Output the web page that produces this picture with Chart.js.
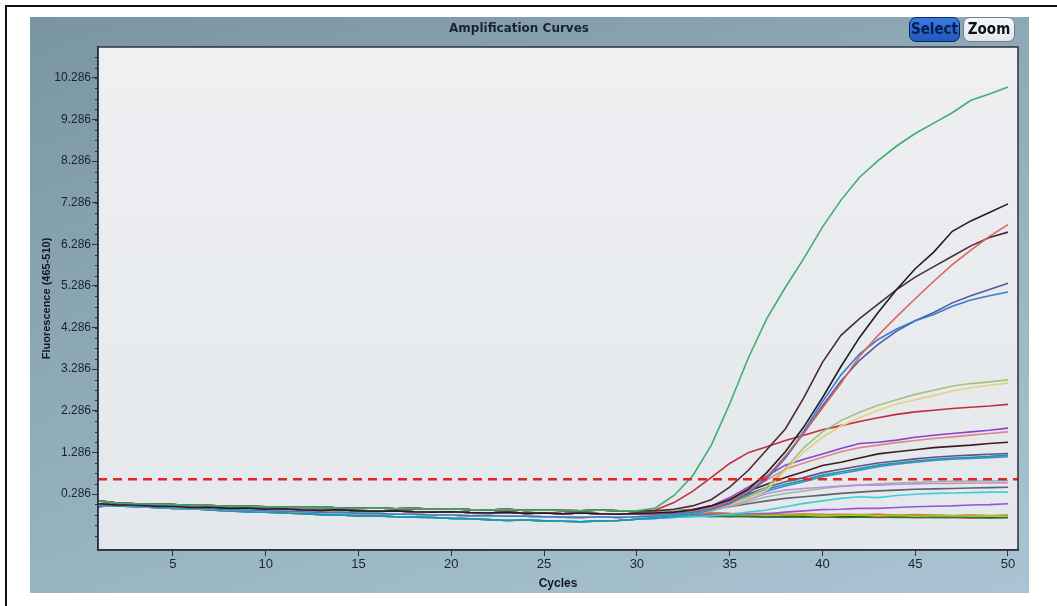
<!DOCTYPE html>
<html>
<head>
<meta charset="utf-8">
<script src="https://cdn.jsdelivr.net/npm/chart.js@4.4.1/dist/chart.umd.min.js"></script>
<style>
  html,body{margin:0;padding:0;background:#ffffff;width:1057px;height:606px;overflow:hidden;}
  #frame{position:absolute;left:5px;top:5px;width:1060px;height:620px;border-left:2px solid #111;border-top:2px solid #111;}
  #panel{position:absolute;left:30px;top:17px;width:999px;height:576px;
    background:linear-gradient(160deg,#7895a0 0%,#8ba7b3 35%,#9bb6c3 65%,#aac4d3 100%);}
  #c{position:absolute;left:0;top:0;}
  .btn{position:absolute;top:17px;height:23px;border-radius:7px;font-family:"Liberation Sans Narrow","Arial Narrow","DejaVu Sans Condensed",sans-serif;
    font-weight:bold;font-size:15px;line-height:23px;text-align:center;}
  #bSelect{left:909px;width:49px;background:linear-gradient(#3a7be0,#1f58c0);border:1.5px solid #0c255e;color:#0a1c50;}
  #bZoom{left:963px;width:50px;background:linear-gradient(#f6f8fa,#e2e7eb);border:1.5px solid #6f808c;color:#111;}
</style>
</head>
<body>
<div id="frame"></div>
<div id="panel"></div>
<canvas id="c" width="1057" height="606"></canvas>
<div class="btn" id="bSelect">Select</div>
<div class="btn" id="bZoom">Zoom</div>
<script>
// ---------- data ----------
const cycles = [1,2,3,4,5,6,7,8,9,10,11,12,13,14,15,16,17,18,19,20,21,22,23,24,25,26,27,28,29,30,
                31,32,33,34,35,36,37,38,39,40,41,42,43,44,45,46,47,48,49,50];
const xTicks = [5,10,15,20,25,30,35,40,45,50];
const yTicks = [0.286,1.286,2.286,3.286,4.286,5.286,6.286,7.286,8.286,9.286,10.286];
const threshold = 0.64;

// baseline phase, cycles 1-30
const baseA = [0.12,0.07,0.05,0.04,0.03,0.01,0.01,-0.01,-0.01,-0.02,-0.03,-0.04,-0.03,-0.05,-0.06,-0.05,-0.07,-0.06,-0.08,-0.07,-0.09,-0.1,-0.08,-0.11,-0.1,-0.11,-0.12,-0.1,-0.12,-0.12];
const baseB = [0.05,0.02,0.02,-0.01,-0.01,-0.04,-0.03,-0.06,-0.05,-0.08,-0.07,-0.1,-0.11,-0.09,-0.12,-0.13,-0.12,-0.14,-0.15,-0.14,-0.16,-0.17,-0.15,-0.18,-0.17,-0.19,-0.17,-0.19,-0.2,-0.18];
const baseC = [-0.02,0.03,-0.01,-0.03,-0.04,-0.06,-0.07,-0.09,-0.1,-0.12,-0.13,-0.14,-0.16,-0.15,-0.18,-0.18,-0.2,-0.2,-0.22,-0.22,-0.24,-0.23,-0.25,-0.25,-0.26,-0.27,-0.28,-0.26,-0.28,-0.26];
const baseD = [0.02,0.0,-0.02,-0.04,-0.06,-0.07,-0.1,-0.12,-0.14,-0.15,-0.17,-0.19,-0.21,-0.22,-0.24,-0.24,-0.26,-0.27,-0.28,-0.3,-0.31,-0.33,-0.35,-0.34,-0.36,-0.37,-0.38,-0.36,-0.35,-0.32];

// cycles 31-50
const tailGreen    = [-0.05,0.25,0.72,1.45,2.45,3.55,4.5,5.25,5.95,6.7,7.35,7.9,8.3,8.65,8.95,9.2,9.45,9.75,9.9,10.07];
const tailBlack    = [-0.17,-0.15,-0.1,0.0,0.15,0.4,0.8,1.3,1.9,2.6,3.35,4.05,4.65,5.2,5.7,6.1,6.6,6.85,7.05,7.26];
const tailSalmon   = [-0.18,-0.16,-0.12,-0.05,0.1,0.35,0.7,1.2,1.75,2.35,2.95,3.6,4.1,4.55,4.98,5.4,5.8,6.15,6.48,6.76];
const tailMaroon   = [-0.12,-0.08,0.0,0.15,0.45,0.85,1.35,1.85,2.6,3.45,4.1,4.5,4.85,5.2,5.5,5.75,6.0,6.25,6.45,6.58];
const tailBlue     = [-0.24,-0.2,-0.15,-0.08,0.05,0.3,0.65,1.15,1.8,2.5,3.15,3.65,4.0,4.25,4.45,4.6,4.8,4.95,5.05,5.14];
const tailSlate    = [-0.19,-0.17,-0.13,-0.07,0.08,0.32,0.68,1.15,1.75,2.4,3.0,3.5,3.88,4.2,4.45,4.65,4.88,5.05,5.2,5.35];
const tailOlive    = [-0.13,-0.12,-0.1,-0.05,0.05,0.22,0.45,0.9,1.4,1.78,2.05,2.25,2.42,2.55,2.68,2.78,2.88,2.94,2.98,3.03];
const tailYellow   = [-0.24,-0.2,-0.15,-0.08,0.03,0.18,0.38,0.85,1.3,1.65,1.92,2.12,2.3,2.45,2.55,2.65,2.76,2.84,2.9,2.95];
const tailCrimson  = [-0.1,0.08,0.35,0.68,1.02,1.28,1.42,1.57,1.7,1.83,1.93,2.03,2.12,2.2,2.26,2.3,2.34,2.37,2.4,2.44];
const tailPurple   = [-0.18,-0.15,-0.1,0.0,0.2,0.45,0.72,0.98,1.12,1.25,1.38,1.5,1.53,1.58,1.65,1.7,1.74,1.78,1.82,1.87];
const tailPink     = [-0.22,-0.18,-0.12,-0.02,0.15,0.38,0.62,0.88,1.03,1.17,1.3,1.4,1.46,1.52,1.57,1.62,1.66,1.7,1.74,1.78];
const tailBrown    = [-0.18,-0.16,-0.12,-0.02,0.15,0.35,0.52,0.68,0.82,0.97,1.05,1.15,1.25,1.3,1.35,1.4,1.43,1.46,1.5,1.53];
const tailTeal     = [-0.28,-0.24,-0.18,-0.08,0.08,0.25,0.4,0.52,0.62,0.74,0.82,0.9,0.98,1.03,1.08,1.12,1.15,1.17,1.19,1.22];
const tailSteel    = [-0.3,-0.26,-0.2,-0.1,0.04,0.2,0.35,0.48,0.58,0.7,0.78,0.86,0.94,1.0,1.05,1.09,1.12,1.14,1.16,1.18];
const tailMauve    = [-0.14,-0.12,-0.08,0.0,0.12,0.28,0.45,0.58,0.68,0.8,0.88,0.96,1.03,1.08,1.13,1.17,1.2,1.22,1.24,1.26];
const tailLilac    = [-0.19,-0.18,-0.15,-0.1,0.0,0.15,0.3,0.38,0.42,0.45,0.48,0.5,0.5,0.52,0.53,0.54,0.54,0.55,0.55,0.56];
const tailSage     = [-0.25,-0.24,-0.2,-0.12,-0.02,0.1,0.22,0.3,0.36,0.42,0.47,0.5,0.53,0.55,0.57,0.58,0.59,0.6,0.6,0.61];
const tailGrey     = [-0.14,-0.14,-0.12,-0.08,-0.02,0.05,0.12,0.18,0.22,0.26,0.3,0.33,0.36,0.38,0.4,0.41,0.42,0.43,0.44,0.45];
const tailCyan     = [-0.3,-0.28,-0.26,-0.24,-0.2,-0.15,-0.1,-0.02,0.06,0.12,0.18,0.22,0.2,0.25,0.28,0.3,0.31,0.32,0.33,0.33];
const tailViolet   = [-0.2,-0.2,-0.21,-0.2,-0.2,-0.19,-0.19,-0.15,-0.12,-0.09,-0.08,-0.06,-0.06,-0.04,-0.02,-0.01,0.0,0.02,0.03,0.05];
const tailFlat1    = [-0.2,-0.2,-0.21,-0.2,-0.22,-0.21,-0.23,-0.22,-0.22,-0.24,-0.23,-0.22,-0.24,-0.23,-0.25,-0.24,-0.24,-0.25,-0.24,-0.25];
const tailFlat2    = [-0.15,-0.16,-0.17,-0.16,-0.18,-0.19,-0.18,-0.2,-0.19,-0.21,-0.2,-0.21,-0.2,-0.22,-0.21,-0.22,-0.23,-0.22,-0.23,-0.22];
const tailFlat3    = [-0.24,-0.25,-0.24,-0.26,-0.25,-0.26,-0.27,-0.26,-0.27,-0.26,-0.28,-0.27,-0.26,-0.28,-0.27,-0.28,-0.27,-0.28,-0.29,-0.28];
const tailFlat4    = [-0.2,-0.21,-0.22,-0.21,-0.23,-0.24,-0.23,-0.24,-0.25,-0.24,-0.26,-0.25,-0.24,-0.26,-0.25,-0.27,-0.26,-0.25,-0.27,-0.26];
const tailFlat5    = [-0.15,-0.16,-0.18,-0.17,-0.19,-0.2,-0.19,-0.21,-0.22,-0.21,-0.23,-0.22,-0.21,-0.23,-0.24,-0.23,-0.24,-0.23,-0.25,-0.24];
const tailFlat6    = [-0.25,-0.24,-0.25,-0.24,-0.26,-0.25,-0.26,-0.27,-0.25,-0.27,-0.26,-0.27,-0.28,-0.27,-0.26,-0.28,-0.27,-0.29,-0.27,-0.28];
const tailFlat7    = [-0.29,-0.27,-0.25,-0.24,-0.24,-0.25,-0.24,-0.26,-0.25,-0.26,-0.27,-0.26,-0.27,-0.26,-0.28,-0.27,-0.26,-0.28,-0.27,-0.28];
const tailFlat8    = [-0.3,-0.28,-0.26,-0.24,-0.23,-0.24,-0.23,-0.25,-0.24,-0.25,-0.24,-0.26,-0.25,-0.24,-0.26,-0.25,-0.27,-0.26,-0.25,-0.26];

// which baseline + tail make each well's curve (drawn top-most first)
const wellBases = [baseA, baseB, baseB, baseA, baseC, baseB, baseA, baseC, baseA, baseB, baseC, baseB, baseD, baseD,
                   baseA, baseB, baseC, baseA, baseD, baseB, baseB, baseA, baseC, baseB, baseA, baseC, baseD, baseD];
const wellTails = [tailGreen, tailBlack, tailSalmon, tailMaroon, tailBlue, tailSlate, tailOlive, tailYellow, tailCrimson,
                   tailPurple, tailPink, tailBrown, tailTeal, tailSteel, tailMauve, tailLilac, tailSage, tailGrey, tailCyan,
                   tailViolet, tailFlat1, tailFlat2, tailFlat3, tailFlat4, tailFlat5, tailFlat6, tailFlat7, tailFlat8];

// ---------- styling ----------
const wellColors = ['#3fae6e','#1e1e24','#d9655c','#4e2a36','#3b78d8','#4d5d9c','#a7c07e','#e3d27a','#c42a40',
                    '#8e3fd0','#d98a86','#3f1c1c','#1b9aa0','#3a8fd0','#6a4c8a','#c58ae0','#94bf98','#5e6272','#3fd0d4',
                    '#9b55d8','#9ccc2e','#e07a2e','#2b7a3a','#222222','#9a5a2a','#d02a7a','#1d7f86','#86b6e8'];

const X_MIN = 0.96, X_MAX = 50.54, Y_MIN = -1.06, Y_MAX = 11.03;

const datasets = [];
datasets.push({
  label: 'Threshold',
  data: [{x: X_MIN, y: threshold}, {x: X_MAX, y: threshold}],
  borderColor: '#e8241c', borderWidth: 2.4, borderDash: [9, 6],
  pointRadius: 0, fill: false, tension: 0
});
wellTails.forEach((tail, i) => {
  const vals = wellBases[i].concat(tail);
  datasets.push({
    label: 'Well ' + (i + 1),
    data: cycles.map((c, k) => ({x: c, y: vals[k]})),
    borderColor: wellColors[i], borderWidth: 1.6,
    pointRadius: 0, fill: false, tension: 0
  });
});

const INK = '#1b2331';

const plotPlugin = {
  id: 'plotArea',
  beforeDraw(chart) {
    const {ctx, chartArea: a} = chart;
    const g = ctx.createLinearGradient(0, a.top, 0, a.bottom);
    g.addColorStop(0, '#eef0f2');
    g.addColorStop(1, '#e4e7eb');
    ctx.save();
    ctx.fillStyle = g;
    ctx.fillRect(a.left, a.top, a.right - a.left, a.bottom - a.top);
    ctx.restore();
  },
  afterDraw(chart) {
    const {ctx, chartArea: a} = chart;
    const ys = chart.scales.y;
    ctx.save();
    ctx.strokeStyle = '#2a3142';
    ctx.lineWidth = 1.5;
    ctx.strokeRect(a.left, a.top, a.right - a.left, a.bottom - a.top);
    ctx.lineWidth = 1;
    ctx.beginPath();
    for (let v = yTicks[0] - 1; v <= Y_MAX; v += 0.25) {
      const p = ys.getPixelForValue(v);
      if (p < a.top || p > a.bottom) continue;
      ctx.moveTo(a.left - 3, Math.round(p) + 0.5);
      ctx.lineTo(a.left, Math.round(p) + 0.5);
    }
    ctx.stroke();
    ctx.restore();
  }
};

Chart.defaults.font.family = "'Liberation Sans', Arial, sans-serif";

new Chart(document.getElementById('c'), {
  type: 'line',
  data: { datasets },
  options: {
    responsive: false,
    animation: false,
    events: [],
    layout: { padding: { left: 20, right: 39, top: 0, bottom: 0 } },
    plugins: {
      legend: { display: false },
      tooltip: { enabled: false },
      title: {
        display: true,
        text: 'Amplification Curves',
        color: INK,
        font: { family: "'DejaVu Sans', sans-serif", size: 12, weight: 'bold', lineHeight: 1.25 },
        padding: { top: 21, bottom: 11 }
      }
    },
    scales: {
      x: {
        type: 'linear', min: X_MIN, max: X_MAX,
        afterBuildTicks(s) { s.ticks = xTicks.map(v => ({value: v})); },
        afterFit(s) { s.height = 56; },
        ticks: { color: INK, font: { size: 13 }, padding: 1, maxRotation: 0, callback: v => String(v) },
        grid: { display: true, drawOnChartArea: false, drawTicks: true, tickLength: 6, color: '#2a3142' },
        border: { display: true, color: '#2a3142', width: 1.5 },
        title: { display: true, text: 'Cycles', color: '#111722',
                 font: { size: 12, weight: 'bold', lineHeight: 1.2 }, padding: { top: 0, bottom: 15 } }
      },
      y: {
        type: 'linear', min: Y_MIN, max: Y_MAX,
        afterBuildTicks(s) { s.ticks = yTicks.map(v => ({value: v})); },
        afterFit(s) { s.width = 78; },
        ticks: { color: INK, font: { size: 12 }, padding: 1, callback: v => v.toFixed(3) },
        grid: { display: true, drawOnChartArea: false, drawTicks: true, tickLength: 6, color: '#2a3142' },
        border: { display: true, color: '#2a3142', width: 1.5 },
        title: { display: true, text: 'Fluorescence (465-510)', color: '#111722',
                 font: { size: 11, weight: 'bold', lineHeight: 1.2 }, padding: { top: 20, bottom: 0 } }
      }
    }
  },
  plugins: [plotPlugin]
});
</script>
</body>
</html>
